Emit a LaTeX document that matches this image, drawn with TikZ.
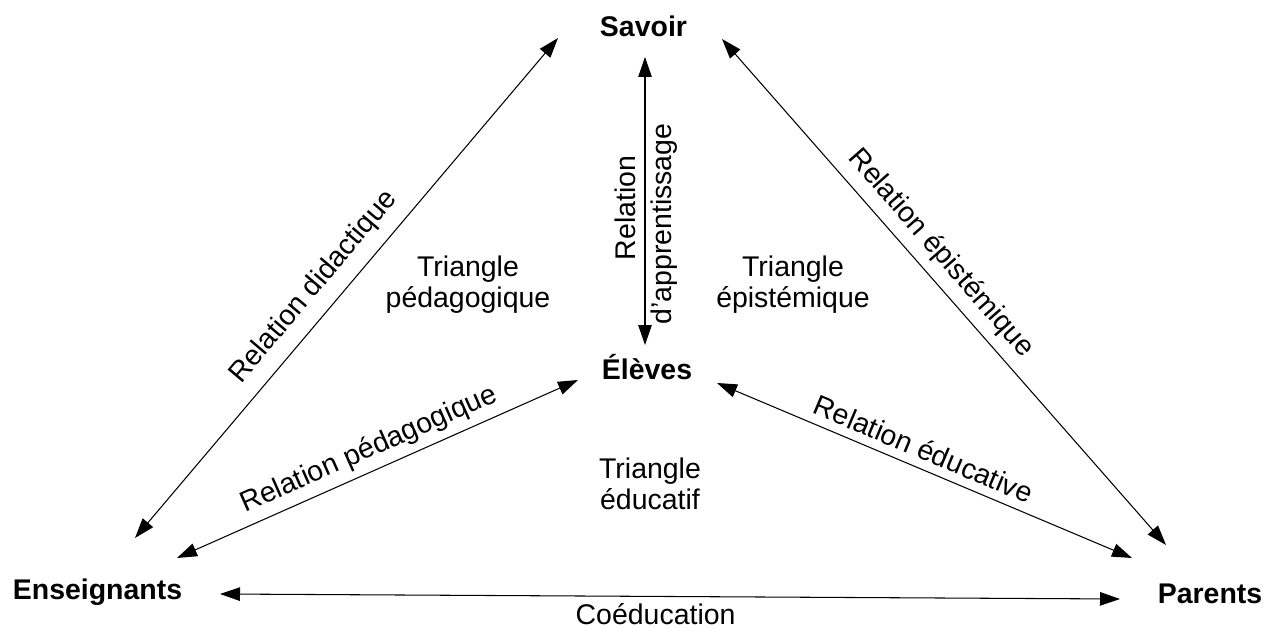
\documentclass[tikz,border=0pt]{standalone}
\usepackage{fontspec}
\setmainfont{Liberation Sans}
\usetikzlibrary{arrows.meta}
\begin{document}
\begin{tikzpicture}[x=0.02cm,y=-0.02cm,
  txt/.style={font=\fontsize{16.2pt}{17.8pt}\selectfont, inner sep=0pt},
  bold/.style={font=\fontsize{16.2pt}{17.8pt}\selectfont\bfseries, inner sep=0pt, anchor=base},
  tri/.style={txt, align=center},
  rel/.style={draw=black, line width=0.6pt, {Triangle[length=0.4cm,width=0.27cm]}-{Triangle[length=0.4cm,width=0.27cm]}},
  lbl/.style={txt, sloped}
]
\useasboundingbox (0,0) rectangle (1265,631);
\node[bold] (sav) at (643.5,37) {Savoir};
\node[bold] (ele) at (647,380) {Élèves};
\node[bold] (ens) at (97.5,600) {Enseignants};
\node[bold] (par) at (1210,603) {Parents};
\coordinate (sA) at (558,38);  \coordinate (eA) at (135,538);
\coordinate (sB) at (722,39);  \coordinate (pB) at (1166,545);
\coordinate (lC) at (578,380); \coordinate (eC) at (177,558);
\coordinate (lD) at (717,383); \coordinate (pD) at (1132,558);
\coordinate (eE) at (220,594); \coordinate (pE) at (1120,599);
\coordinate (sV) at (645,57);  \coordinate (lV) at (645,345);
\draw[rel] (eA) -- node[lbl, above=0.236cm, pos=0.469] {Relation didactique} (sA);
\draw[rel] (sB) -- node[lbl, above=0.18cm, pos=0.454] {Relation épistémique} (pB);
\draw[rel] (eC) -- node[lbl, above=0.14cm, pos=0.5] {Relation pédagogique} (lC);
\draw[rel] (lD) -- node[lbl, above=0.17cm, pos=0.48] {Relation éducative} (pD);
\draw[rel] (eE) -- node[txt, below=0.14cm, pos=0.484] {Coéducation} (pE);
\draw[rel] (lV) -- node[lbl, above=0.18cm, pos=0.476] {Relation} node[lbl, below=0.11cm, pos=0.42] {d'apprentissage} (sV);
\node[tri] (tp) at (468,285) {Triangle\\pédagogique};
\node[tri] (te) at (793,285) {Triangle\\épistémique};
\node[tri] (tc) at (650,484) {Triangle\\éducatif};
\end{tikzpicture}
\end{document}
